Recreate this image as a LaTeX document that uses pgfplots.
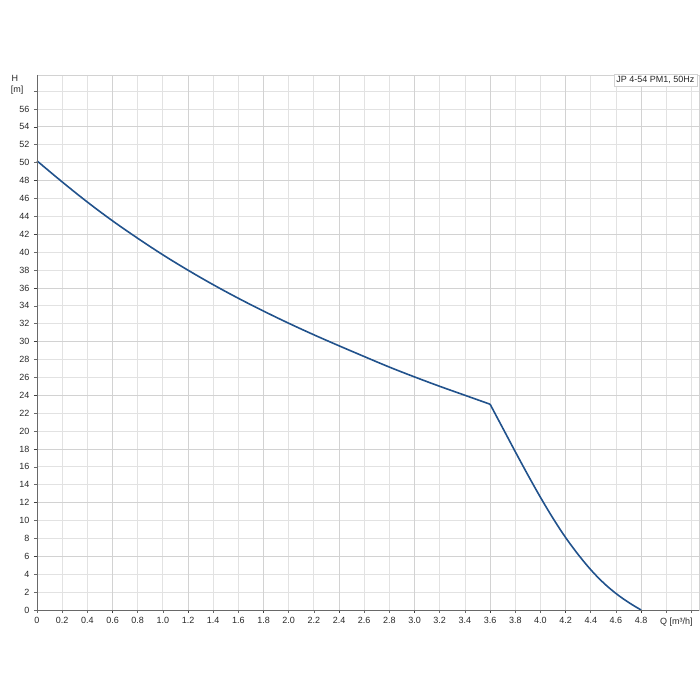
\documentclass[border=0pt]{standalone}
\usepackage{fontspec}
\setmainfont{Liberation Sans}
\usepackage{pgfplots}
\pgfplotsset{compat=1.18}
\definecolor{curve}{RGB}{33,82,140}
\definecolor{gridl}{RGB}{226,226,226}
\definecolor{gridd}{RGB}{210,210,210}
\definecolor{axisc}{RGB}{105,105,105}
\definecolor{txt}{RGB}{40,40,40}
\begin{document}
\begin{tikzpicture}[x=1pt,y=1pt]
\path[use as bounding box] (0,0) rectangle (700,700);
\begin{axis}[
  at={(37pt,90pt)}, anchor=south west,
  scale only axis, width=662pt, height=535pt,
  xmin=0, xmax=5.26, ymin=0, ymax=59.8,
  xtick={0,0.2,0.4,0.6,0.8,1.0,1.2,1.4,1.6,1.8,2.0,2.2,2.4,2.6,2.8,3.0,3.2,3.4,3.6,3.8,4.0,4.2,4.4,4.6,4.8,5.0,5.2},
  xticklabels={0,0.2,0.4,0.6,0.8,1.0,1.2,1.4,1.6,1.8,2.0,2.2,2.4,2.6,2.8,3.0,3.2,3.4,3.6,3.8,4.0,4.2,4.4,4.6,4.8,,},
  ytick={0,2,4,6,8,10,12,14,16,18,20,22,24,26,28,30,32,34,36,38,40,42,44,46,48,50,52,54,56,58},
  yticklabels={0,2,4,6,8,10,12,14,16,18,20,22,24,26,28,30,32,34,36,38,40,42,44,46,48,50,52,54,56,},
  extra x ticks={0.6,1.2,1.8,2.4,3.0,3.6,4.2,4.8},
  extra x tick labels={},
  extra y ticks={6,12,18,24,30,36,42,48,54},
  extra y tick labels={},
  extra tick style={major grid style={gridd, line width=0.8pt}, tick style={black!75}},
  grid=major,
  major grid style={gridl, line width=0.8pt},
  axis line style={gridd},
  xtick pos=bottom, ytick pos=left,
  tick align=outside, major tick length=3pt,
  tick style={axisc, line width=0.6pt},
  ticklabel style={font=\fontsize{9}{10}\selectfont, text=txt},
  xticklabel style={yshift=-1pt},
  yticklabel style={xshift=-1pt},
  clip=false,
]
\addplot[curve, line width=1.6pt, smooth, tension=0.6] coordinates {
(0,50.2) (0.2,47.85) (0.4,45.6) (0.6,43.5) (0.8,41.55) (1.0,39.7) (1.2,37.98) (1.4,36.36)
(1.6,34.84) (1.8,33.41) (2.0,32.05) (2.2,30.76) (2.4,29.53) (2.6,28.33) (2.8,27.15) (3.0,26.05)
(3.2,25.0) (3.4,24.0) (3.6,23.0)};
\addplot[curve, line width=1.6pt, smooth, tension=0.6] coordinates {
(3.6,23.0) (3.7,20.35) (3.8,17.7) (3.9,15.1) (4.0,12.6) (4.1,10.25) (4.2,8.1) (4.3,6.2)
(4.4,4.5) (4.5,3.05) (4.6,1.85) (4.7,0.85) (4.8,0.0)};
\draw[axisc, line width=0.8pt] (rel axis cs:0,1) -- (rel axis cs:0,0) -- (rel axis cs:1,0);
\node[draw=gridd, fill=white, anchor=north east, inner sep=2.5pt, font=\fontsize{9}{10}\selectfont, text=txt]
  at ([xshift=-2pt,yshift=1pt]rel axis cs:1,1) {JP 4-54 PM1, 50Hz};
\node[font=\fontsize{9}{10}\selectfont, text=txt, anchor=north] at ([yshift=-4pt]axis cs:5.08,0) {Q [m³/h]};
\end{axis}
\node[font=\fontsize{9}{10}\selectfont, text=txt] at (15,622) {H};
\node[font=\fontsize{9}{10}\selectfont, text=txt] at (17,610) {[m]};
\end{tikzpicture}
\end{document}
